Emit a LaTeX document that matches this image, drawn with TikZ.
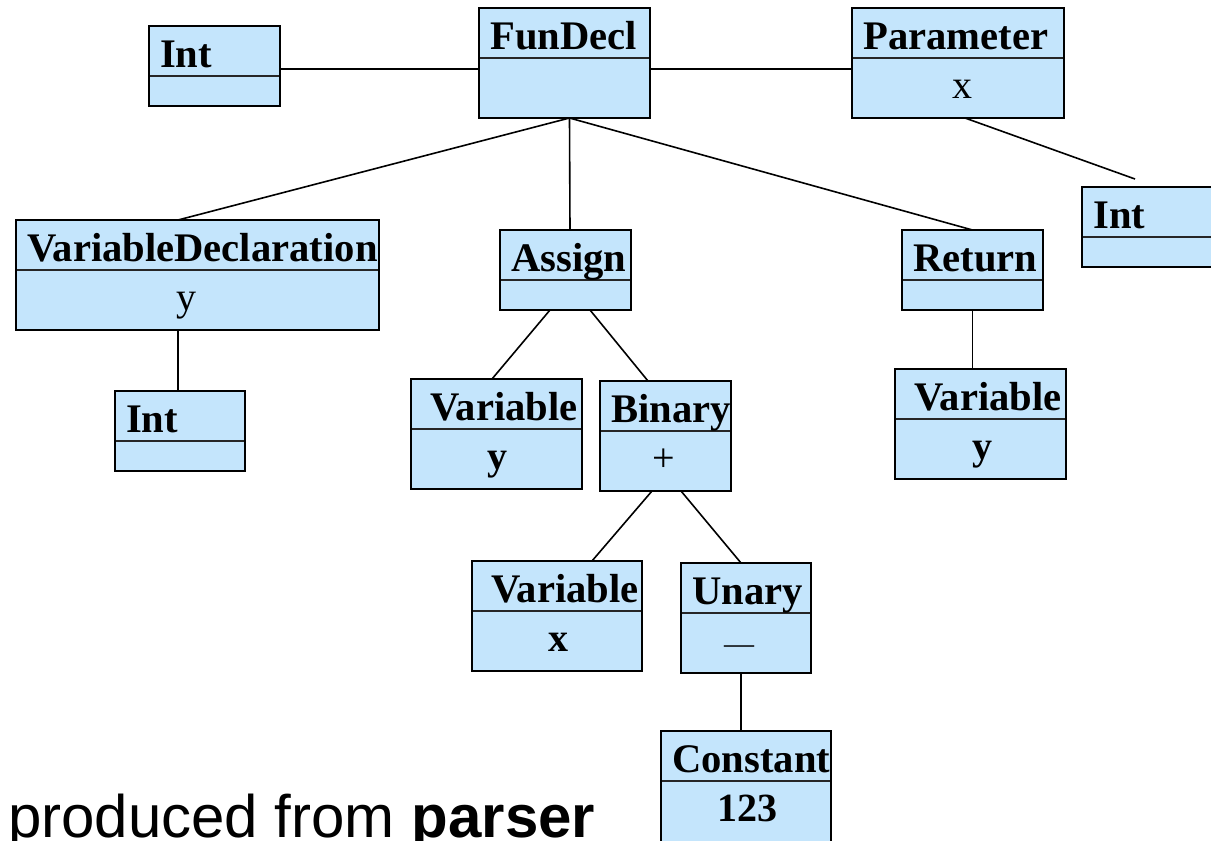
\documentclass[tikz,border=0pt]{standalone}
\usepackage{fontspec}
\setmainfont{Liberation Serif}
\newfontfamily\labelsans{Liberation Sans}
\definecolor{boxfill}{HTML}{C4E5FC}
\tikzset{
  umlbox/.style={draw=black, fill=boxfill, line width=2.2pt, rectangle, inner sep=0pt, outer sep=0pt},
  divider/.style={draw=black!85, line width=1.1pt},
  edge/.style={draw=black, line width=1.6pt},
  title/.style={inner sep=0pt, font=\fontsize{40.6}{48}\selectfont\bfseries},
  value/.style={inner sep=0pt, font=\fontsize{40}{48}\selectfont},
}
% #1 name, #2 x1, #3 y1, #4 x2, #5 y2, #6 divider y, #7 title, #8 value, #9 value x
\newcommand\umlnode[9]{%
  \node[umlbox, minimum width={#4-#2}, minimum height={#5-#3}] (#1) at ({(#2+#4)/2},{(#3+#5)/2}) {};
  \draw[divider] (#2+1.1,#6) -- (#4-1.1,#6);
  \node[title, anchor=base west] (#1-t) at (#2+11,#3+41) {#7};
  \node[value, anchor=base] (#1-v) at (#9,#6+40) {#8};
}
\begin{document}
\begin{tikzpicture}[x=1pt, y=-1pt]
  \useasboundingbox (0,0) rectangle (1211,841);
  \clip (0,0) rectangle (1211,841);
  \fill[white] (0,0) rectangle (1211,841);

  % free end of the Parameter -> Int link
  \coordinate (pend) at (1135,179);

  % boxes
  \umlnode{intA}{149}{26}{280}{106}{76}{Int}{}{214}
  \umlnode{fd}{479}{8}{650}{118}{58}{FunDecl}{}{564}
  \umlnode{par}{852}{8}{1064}{118}{58}{Parameter}{x}{962}
  \umlnode{intB}{1082}{187}{1216}{267}{237}{Int}{}{1150}
  \umlnode{vd}{16}{220}{379}{330}{270}{VariableDeclaration}{y}{186}
  \umlnode{intC}{115}{391}{245}{471}{441}{Int}{}{180}
  \umlnode{asg}{500}{230}{631}{310}{280}{Assign}{}{565}
  \umlnode{vy}{411}{379}{582}{489}{429}{\hspace{8pt}Variable}{\textbf{y}}{497}
  \umlnode{bin}{600}{381}{731}{491}{431}{Binary}{+}{664}
  \umlnode{ret}{902}{230}{1043}{310}{280}{Return}{}{972}
  \umlnode{vy2}{895}{369}{1066}{479}{419}{\hspace{8pt}Variable}{\textbf{y}}{982}
  \umlnode{vx}{472}{561}{642}{671}{611}{\hspace{8pt}Variable}{\textbf{x}}{558}
  \umlnode{un}{681}{563}{811}{673}{613}{Unary}{{\fontsize{30}{36}\selectfont —}}{739}
  \umlnode{cst}{661}{731}{831}{846}{781}{Constant}{\textbf{123}}{747}

  % connectors
  \draw[edge] ([yshift=-3pt]intA.east) -- ([yshift=-3pt]intA.east -| fd.west);
  \draw[edge] ([yshift=-6pt]fd.east) -- ([yshift=-6pt]par.west);
  \draw[edge] ([xshift=5pt]fd.south) -- ([xshift=-19.5pt]vd.north);
  \draw[edge] ([xshift=5pt]fd.south) -- ([xshift=4.5pt]asg.north);
  \draw[edge] ([xshift=5pt]fd.south) -- (ret.north);
  \draw[edge] ([xshift=7pt]par.south) -- (pend);
  \draw[edge] ([xshift=-19.5pt]vd.south) -- ([xshift=-19.5pt]vd.south |- intC.north);
  \draw[edge] ([xshift=-15.5pt]asg.south) -- ([xshift=-4.5pt]vy.north);
  \draw[edge] ([xshift=24.5pt]asg.south) -- ([xshift=-17.5pt]bin.north);
  \draw[edge] ([xshift=-13.5pt]bin.south) -- ([xshift=35pt]vx.north);
  \draw[edge] ([xshift=15.5pt]bin.south) -- ([xshift=-5pt]un.north);
  \draw[edge] (ret.south) -- (ret.south |- vy2.north);
  \draw[edge] ([xshift=-5pt]un.south) -- ([xshift=-5pt]cst.north);

  % caption
  \node[inner sep=0pt, anchor=base west, font=\labelsans\fontsize{60}{66}\selectfont] (cap) at (8,837)
    {produced from \textbf{parser}};
\end{tikzpicture}
\end{document}
